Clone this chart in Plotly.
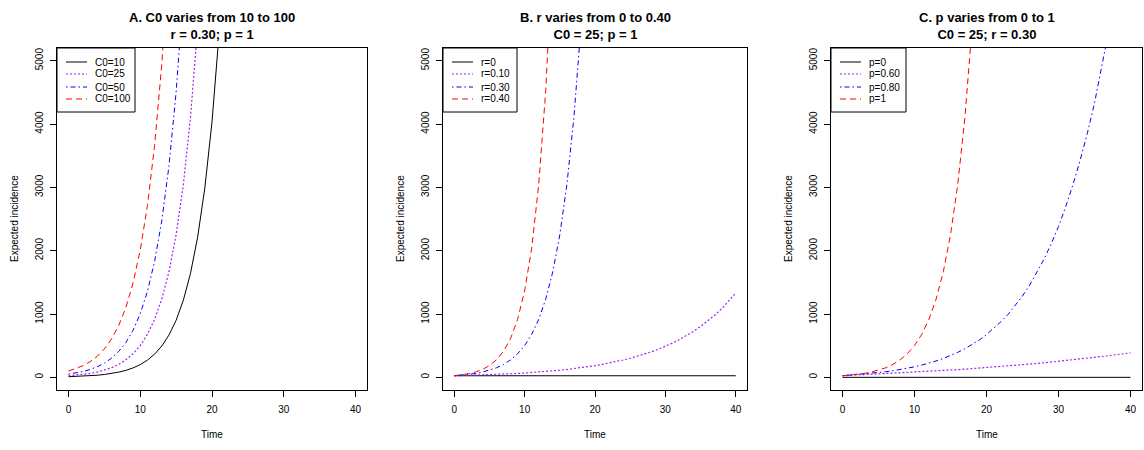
import plotly.graph_objects as go

TIME = list(range(0, 41))

# Panel A: C0 varies (r = 0.30, p = 1)
A_C0_10 = [10, 13, 18, 25, 33, 45, 60, 82, 110, 149, 201, 271, 366, 494, 667, 900,
           1215, 1640, 2214, 2989, 4034, 5446]
A_C0_25 = [25, 34, 46, 61, 83, 112, 151, 204, 276, 372, 502, 678, 915, 1235, 1667,
           2251, 3038, 4101, 5536]
A_C0_50 = [50, 67, 91, 123, 166, 224, 302, 408, 551, 744, 1004, 1356, 1830, 2470,
           3335, 4502, 6077]
A_C0_100 = [100, 135, 182, 246, 332, 448, 605, 817, 1102, 1488, 2009, 2711, 3660,
            4940, 6669]

# Panel B: r varies (C0 = 25, p = 1)
B_R_0 = [25, 25, 25, 25, 25, 25, 25, 25, 25, 25, 25, 25, 25, 25, 25, 25, 25, 25, 25,
         25, 25, 25, 25, 25, 25, 25, 25, 25, 25, 25, 25, 25, 25, 25, 25, 25, 25, 25,
         25, 25, 25]
B_R_010 = [25, 28, 30, 34, 37, 41, 46, 50, 56, 61, 68, 75, 83, 92, 101, 112, 124, 137,
           151, 167, 185, 204, 225, 248, 274, 302, 332, 365, 402, 443, 489, 540, 596,
           658, 727, 803, 887, 980, 1083, 1200, 1330]
B_R_030 = [25, 34, 46, 61, 83, 112, 151, 204, 276, 372, 502, 678, 915, 1235, 1667,
           2251, 3038, 4101, 5536]
B_R_040 = [25, 37, 56, 83, 124, 185, 276, 411, 613, 915, 1365, 2036, 3038, 4532, 6762]

# Panel C: p varies (C0 = 25, r = 0.30)
C_P_0 = [0, 0, 0, 0, 0, 0, 0, 0, 0, 0, 0, 0, 0, 0, 0, 0, 0, 0, 0, 0, 0, 0, 0, 0, 0,
         0, 0, 0, 0, 0, 0, 0, 0, 0, 0, 0, 0, 0, 0, 0, 0]
C_P_060 = [25, 34, 39, 45, 50, 55, 60, 66, 71, 77, 83, 89, 95, 101, 108, 115, 122,
           129, 137, 145, 153, 161, 170, 179, 188, 198, 208, 218, 229, 240, 252, 263,
           276, 288, 301, 315, 329, 343, 358, 373, 386]
C_P_080 = [25, 34, 42, 52, 62, 74, 88, 104, 122, 142, 166, 193, 223, 258, 298, 343,
           394, 452, 517, 590, 676, 771, 877, 995, 1132, 1284, 1457, 1652, 1868, 2112,
           2382, 2694, 3038, 3425, 3850, 4328, 4880, 5485]
C_P_1 = [25, 34, 46, 61, 83, 112, 151, 204, 276, 372, 502, 678, 915, 1235, 1667,
         2251, 3038, 4101, 5536]

TITLES = ["<b>A. C0 varies from 10 to 100</b><br><b>r = 0.30; p = 1</b>",
          "<b>B. r varies from 0 to 0.40</b><br><b>C0 = 25; p = 1</b>",
          "<b>C. p varies from 0 to 1</b><br><b>C0 = 25; r = 0.30</b>"]

PANELS = [
    [("C0=10", A_C0_10), ("C0=25", A_C0_25), ("C0=50", A_C0_50), ("C0=100", A_C0_100)],
    [("r=0", B_R_0), ("r=0.10", B_R_010), ("r=0.30", B_R_030), ("r=0.40", B_R_040)],
    [("p=0", C_P_0), ("p=0.60", C_P_060), ("p=0.80", C_P_080), ("p=1", C_P_1)],
]

STYLES = [
    dict(color="#000000", dash="solid", width=1.0),
    dict(color="#A020F0", dash="2px,2px", width=1.2),
    dict(color="#0000FF", dash="1.5px,3px,5px,3px", width=1.0),
    dict(color="#FF0000", dash="6px,4px", width=1.0),
]

W, H = 1144, 450
BOX_X = [(57, 367), (443, 747), (831, 1142)]
LEG_W = [78, 74, 75]
LEG_H = 64
LEG_ROWS = [14, 26, 39, 51]
BOX_TOP, BOX_BOT = 48, 390
FONT = "Liberation Sans, Arial, sans-serif"

fig = go.Figure()

for i, series in enumerate(PANELS):
    xa = "x" if i == 0 else f"x{i+1}"
    ya = "y" if i == 0 else f"y{i+1}"
    for (name, vals), st in zip(series, STYLES):
        fig.add_trace(go.Scatter(
            x=TIME[:len(vals)], y=vals, mode="lines", name=name,
            line=dict(color=st["color"], dash=st["dash"], width=st["width"]),
            xaxis=xa, yaxis=ya, showlegend=False,
        ))

layout = dict(
    width=W, height=H, margin=dict(l=0, r=0, t=0, b=0),
    paper_bgcolor="white", plot_bgcolor="white",
    font=dict(family=FONT, size=10, color="#000000"),
    annotations=[], shapes=[], showlegend=False,
)

def px(x):
    return x / W

def py(y):
    return 1 - y / H

for i in range(3):
    x0, x1 = BOX_X[i]
    sfx = "" if i == 0 else str(i + 1)
    layout["xaxis" + sfx] = dict(
        domain=[px(x0), px(x1)], range=[-1.6, 41.6], tickvals=[0, 10, 20, 30, 40],
        showline=True, linecolor="#000000", linewidth=1, mirror=True,
        ticks="outside", ticklen=6, tickcolor="#000000", tickwidth=1,
        showgrid=False, zeroline=False, anchor="y" + sfx,
        tickfont=dict(family=FONT, size=10, color="#000000"),
        ticklabelstandoff=4,
    )
    layout["yaxis" + sfx] = dict(
        domain=[py(BOX_BOT), py(BOX_TOP)], range=[-200, 5200],
        tickvals=[0, 1000, 2000, 3000, 4000, 5000],
        showline=True, linecolor="#000000", linewidth=1, mirror=True,
        ticks="outside", ticklen=6, tickcolor="#000000", tickwidth=1,
        showgrid=False, zeroline=False, anchor="x" + sfx, tickangle=-90,
        tickfont=dict(family=FONT, size=10, color="#000000"),
        ticklabelstandoff=3,
    )
    # legend box (R style)
    layout["shapes"].append(dict(
        type="rect", xref="paper", yref="paper",
        x0=px(x0), x1=px(x0 + LEG_W[i]), y0=py(BOX_TOP + LEG_H), y1=py(BOX_TOP),
        line=dict(color="#000000", width=1), fillcolor="white", layer="above",
    ))
    for k, ((name, _), st) in enumerate(zip(PANELS[i], STYLES)):
        yy = BOX_TOP + LEG_ROWS[k]
        layout["shapes"].append(dict(
            type="line", xref="paper", yref="paper",
            x0=px(x0 + 9), x1=px(x0 + 30), y0=py(yy), y1=py(yy),
            line=dict(color=st["color"], dash=st["dash"], width=st["width"]),
            layer="above",
        ))
        layout["annotations"].append(dict(
            text=name, x=px(x0 + 36), y=py(yy), xref="paper", yref="paper",
            xanchor="left", yanchor="middle", showarrow=False,
            font=dict(family=FONT, size=10, color="#000000"),
        ))
    cx = px((x0 + x1) / 2)
    layout["annotations"].append(dict(
        text=TITLES[i], x=cx, y=py(8), xref="paper", yref="paper",
        xanchor="center", yanchor="top", showarrow=False,
        font=dict(family=FONT, size=13, color="#000000"),
    ))
    layout["annotations"].append(dict(
        text="Time", x=cx, y=py(434), xref="paper", yref="paper",
        xanchor="center", yanchor="middle", showarrow=False,
        font=dict(family=FONT, size=10, color="#000000"),
    ))
    layout["annotations"].append(dict(
        text="Expected incidence", x=px(x0 - 43), y=py(219),
        xref="paper", yref="paper", xanchor="center", yanchor="middle",
        textangle=-90, showarrow=False,
        font=dict(family=FONT, size=10, color="#000000"),
    ))

fig.update_layout(**layout)
fig.write_html(
    "out.html",
    config={"displayModeBar": False},
    post_script="document.body.style.margin='0';document.body.style.overflow='hidden';",
)
